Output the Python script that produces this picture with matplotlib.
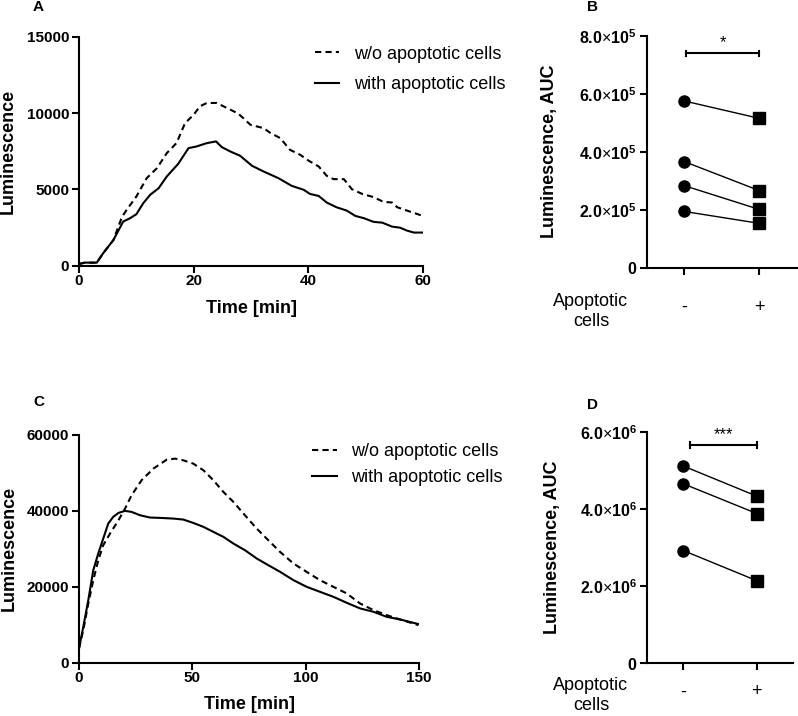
import matplotlib
matplotlib.use("Agg")
import matplotlib.pyplot as plt
from matplotlib.ticker import FuncFormatter

plt.rcParams['font.family'] = ['Liberation Sans', 'DejaVu Sans']
plt.rcParams['mathtext.fontset'] = 'custom'
plt.rcParams['mathtext.rm'] = 'Liberation Sans'
plt.rcParams['mathtext.bf'] = 'Liberation Sans:bold'
plt.rcParams['axes.linewidth'] = 1.5

# panel A: kinetics, 60 min
a_t_wo = [0, 1, 3.1, 4.2, 6, 7.5, 8.3, 10, 11.8, 13.6, 15.3, 17, 18.5, 20, 21.1, 22.3,
          24, 25.8, 27.8, 29.9, 32.2, 33.4, 35.1, 36.8, 38.6, 40, 41.8, 43.2, 44.4,
          46.2, 47.6, 49.4, 51.4, 53.1, 54.6, 55.5, 57.2, 60]
a_wo = [110, 200, 200, 810, 1680, 3200, 3650, 4530, 5730, 6390, 7370, 8030, 9340, 9890,
        10440, 10660, 10660, 10330, 9960, 9230, 9010, 8690, 8360, 7590, 7260, 6890,
        6500, 5890, 5670, 5670, 5010, 4700, 4490, 4180, 4140, 3830, 3610, 3260]
a_t_with = [0, 1, 3.1, 4.2, 6, 7.7, 8.9, 10, 11.2, 12.4, 13.9, 15.3, 17.3, 19.1, 20.5,
            22.3, 23.9, 24.9, 26.4, 28.1, 30.2, 32.2, 34.8, 37.1, 39.2, 40.3, 41.8,
            43.2, 44.9, 46.7, 48.2, 49.7, 51.4, 52.9, 54.6, 56, 57.2, 58.4, 60]
a_with = [110, 200, 200, 810, 1680, 2890, 3110, 3370, 4090, 4640, 5080, 5840, 6670, 7700,
          7810, 8030, 8140, 7770, 7480, 7200, 6540, 6170, 5730, 5230, 4970, 4700, 4570,
          4140, 3830, 3610, 3260, 3110, 2870, 2820, 2560, 2490, 2300, 2170, 2170]

# panel C: kinetics, 150 min
c_t_wo = [0, 1.9, 4.1, 6.3, 8.5, 10.7, 13.7, 17.4, 20.3, 23.2, 27.6, 32.8, 38.7, 42.4,
          46, 50.4, 54.9, 59.3, 63.7, 68.1, 73.2, 78.4, 83.5, 88.7, 94.6, 100.4, 106.3,
          112.2, 118.1, 124, 129.9, 135.7, 141.6, 149.7]
c_wo = [3770, 8600, 15600, 21750, 27000, 30970, 34040, 37540, 40600, 44120, 48070, 51140,
        53500, 53770, 53330, 52460, 50700, 48070, 45000, 42370, 38860, 35350, 32280,
        29210, 26140, 23950, 21750, 20000, 18250, 15610, 13860, 12540, 11400, 9910]
c_t_with = [0, 1.9, 4.1, 6.3, 8.5, 10.7, 12.9, 15.1, 17.4, 20.3, 23.2, 26.9, 31.3, 35.7,
            41.6, 46, 50.4, 54.9, 59.3, 63.7, 68.1, 73.2, 78.4, 83.5, 88.7, 94.6, 100.4,
            106.3, 112.2, 118.1, 124, 129.9, 135.7, 141.6, 149.7]
c_with = [3770, 9470, 16490, 24390, 28770, 32720, 36670, 38420, 39470, 40000, 39740, 38860,
          38250, 38160, 37980, 37720, 36840, 35790, 34470, 33160, 31400, 29650, 27460,
          25700, 23950, 21750, 20000, 18680, 17370, 15790, 14300, 13420, 12100, 11400, 10180]

# panels B and D: AUC, paired
groups = ['-', '+']
b_without = [5.75e5, 3.66e5, 2.83e5, 1.94e5]
b_with = [5.15e5, 2.66e5, 2.01e5, 1.53e5]
d_without = [5.11e6, 4.65e6, 2.92e6]
d_with = [4.33e6, 3.88e6, 2.14e6]

W, H = 798, 716
fig = plt.figure(figsize=(W / 100, H / 100), dpi=100)


def px_axes(left, right, top, bottom):
    return fig.add_axes([left / W, (H - bottom) / H, (right - left) / W, (bottom - top) / H])


def style(ax):
    for s in ['top', 'right']:
        ax.spines[s].set_visible(False)
    ax.tick_params(width=1.5, length=5)


def kinetics(ax, t1, y1, t2, y2, xmax, ymax, step, ystep, lab_y, spacing):
    ax.plot(t1, y1, color='black', lw=1.5, ls=(0, (3, 2)), label='w/o apoptotic cells')
    ax.plot(t2, y2, color='black', lw=1.5, label='with apoptotic cells')
    ax.set_xlim(0, xmax)
    ax.set_ylim(0, ymax)
    ax.set_xticks(range(0, xmax + 1, step))
    ax.set_yticks(range(0, ymax + 1, ystep))
    style(ax)
    ax.tick_params(labelsize=11)
    ax.tick_params(axis='x', pad=1)
    ax.tick_params(axis='y', pad=2)
    for lb in ax.get_xticklabels() + ax.get_yticklabels():
        lb.set_fontweight('bold')
    ax.set_xlabel('Time [min]', fontsize=13, fontweight='bold', va='center')
    ax.xaxis.set_label_coords(0.5, -0.185)
    ax.set_ylabel('Luminescence', fontsize=13, fontweight='bold', va='center')
    ax.yaxis.set_label_coords(-0.205, 0.5)
    ax.legend(loc='upper left', bbox_to_anchor=(0.66, lab_y), frameon=False, fontsize=13,
              handlelength=1.35, handletextpad=0.8, labelspacing=spacing, borderpad=0)


def sci(v, p):
    if v == 0:
        return r'$\mathbf{0}$'
    e = 5 if v < 1e6 else 6
    return r'$\mathbf{%.1f}{\times}\mathbf{10^{%d}}$' % (v / 10 ** e, e)


def paired(ax, y0, y1, ymax, ystep, star, bx0, by, xpad, text_y, gap):
    for a, b in zip(y0, y1):
        ax.plot([0, 1], [a, b], color='black', lw=1)
    ax.plot([0] * len(y0), y0, 'o', color='black', ms=8)
    ax.plot([1] * len(y1), y1, 's', color='black', ms=8.5)
    ax.set_xlim(-0.5, 1.5)
    ax.set_ylim(0, ymax)
    ax.set_yticks([i * ystep for i in range(int(ymax / ystep) + 1)])
    ax.yaxis.set_major_formatter(FuncFormatter(sci))
    ax.set_xticks([0, 1])
    ax.set_xticklabels(groups, fontsize=13)
    style(ax)
    ax.tick_params(axis='y', labelsize=11.5, pad=2)
    ax.tick_params(axis='x', pad=xpad)
    ax.set_ylabel('Luminescence, AUC', fontsize=13, fontweight='bold', va='center')
    ax.yaxis.set_label_coords(-0.645, 0.5)
    ax.plot([bx0, 1], [by, by], color='black', lw=1.5)
    cap = ymax * 0.012
    for xx in (bx0, 1):
        ax.plot([xx, xx], [by - cap, by + cap], color='black', lw=1.5)
    ax.text((bx0 + 1) / 2, by + ymax * 0.012, star, ha='center', va='bottom', fontsize=12)
    fig.text(591 / W, 1 - text_y / H, 'Apoptotic', ha='center', va='center', fontsize=13)
    fig.text(591 / W, 1 - (text_y + gap) / H, 'cells', ha='center', va='center', fontsize=13)


axA = px_axes(79, 423, 36.7, 265.7)
kinetics(axA, a_t_wo, a_wo, a_t_with, a_with, 60, 15000, 20, 5000, 1.0, 0.75)
axC = px_axes(79, 419, 435, 662.7)
kinetics(axC, c_t_wo, c_wo, c_t_with, c_with, 150, 60000, 50, 20000, 1.005, 0.5)

axB = px_axes(646.7, 796.7, 35.7, 267.7)
paired(axB, b_without, b_with, 8e5, 2e5, '*', 0.03, 7.39e5, 17.5, 302, 20)
axD = px_axes(646.7, 793.5, 431.7, 663.3)
paired(axD, d_without, d_with, 6e6, 2e6, '***', 0.09, 5.65e6, 9.5, 686, 19)

for lab, x, y in [('A', 38, 7), ('B', 593, 7), ('C', 39, 402), ('D', 592, 405)]:
    fig.text(x / W, 1 - y / H, lab, fontsize=11, fontweight='bold', ha='center', va='center')

fig.savefig('out.png', dpi=100)
